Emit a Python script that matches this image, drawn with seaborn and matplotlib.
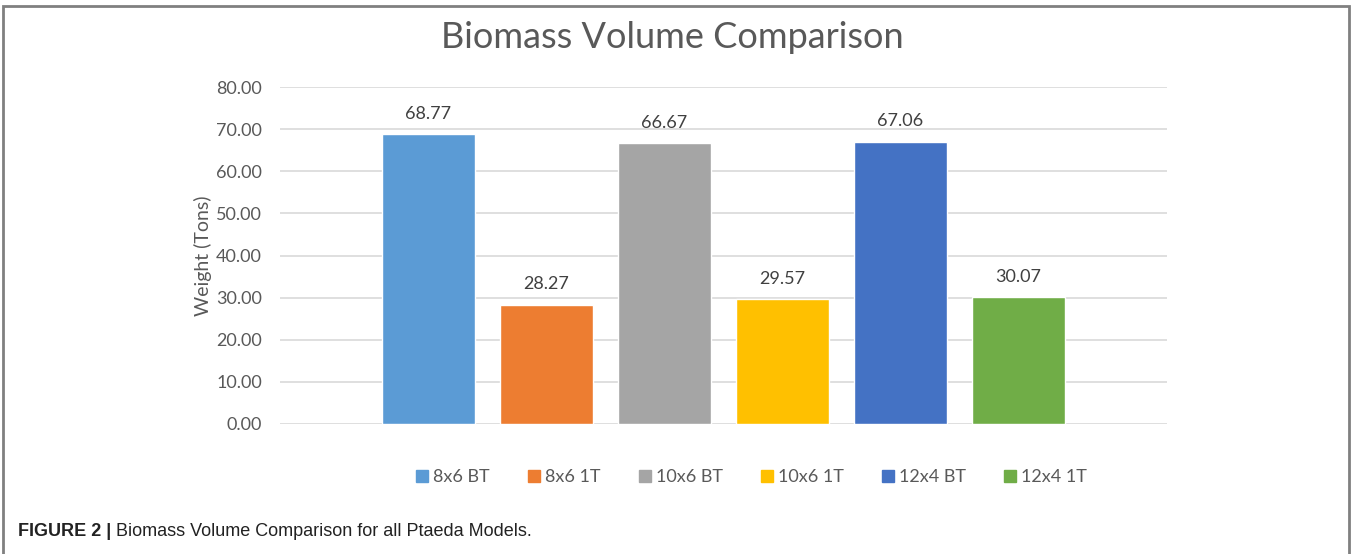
import matplotlib
matplotlib.use("Agg")
import matplotlib.pyplot as plt
import seaborn as sns
import pandas as pd
from matplotlib.patches import Rectangle
from matplotlib.lines import Line2D

series = ["8x6 BT", "8x6 1T", "10x6 BT", "10x6 1T", "12x4 BT", "12x4 1T"]
values = [68.77, 28.27, 66.67, 29.57, 67.06, 30.07]
colors = ["#5B9BD5", "#ED7D31", "#A5A5A5", "#FFC000", "#4472C4", "#70AD47"]
yticks = [0, 10, 20, 30, 40, 50, 60, 70, 80]

sns.set_theme(style="white")
plt.rcParams['font.family'] = ['Lato', 'DejaVu Sans']

df = pd.DataFrame({"series": series, "value": values})

fig = plt.figure(figsize=(13.52, 5.54), dpi=100)
ax = fig.add_axes([280/1352, 1-424/554, (1167-280)/1352, (424-87)/554])

sns.barplot(data=df, x="series", y="value", hue="series", palette=colors,
            order=series, hue_order=series, dodge=False, width=93/118,
            legend=False, ax=ax, saturation=1)

ax.set_xlim(2.5 - 887/118/2, 2.5 + 887/118/2)
ax.set_ylim(0, 80)
ax.set_yticks(yticks)
ax.set_yticklabels([f"{v:.2f}" for v in yticks], fontsize=13, color="#595959")
ax.tick_params(axis="y", length=0, pad=13)
ax.set_xticks([])
ax.set_xlabel("")
ax.set_ylabel("Weight (Tons)", fontsize=14, color="#595959", labelpad=3)
ax.grid(axis="y", color="#D9D9D9", linewidth=1.2)
ax.set_axisbelow(True)
for s in ax.spines.values():
    s.set_visible(False)

for i, v in enumerate(values):
    ax.annotate(f"{v:.2f}", (i, v), xytext=(0, 9), textcoords="offset points",
                ha="center", va="bottom", fontsize=13, color="#404040")

fig.text(672/1352, 1-38/554, "Biomass Volume Comparison", ha="center", va="center",
         fontsize=26, color="#595959")

handles = [Line2D([], [], marker="s", linestyle="", markersize=9, color=c) for c in colors]
fig.legend(handles, series, loc="center", bbox_to_anchor=(750/1352, 1-477/554),
           ncol=6, frameon=False, fontsize=13, handletextpad=0.1,
           columnspacing=1.95, handlelength=1.0, labelcolor="#595959")

# outer border
fig.patches.append(Rectangle((3/1352, -0.05), (1349-3)/1352, 1.05 - 6/554,
                             transform=fig.transFigure, fill=False,
                             edgecolor="#808080", linewidth=2))

t1 = fig.text(18/1352, 1-531/554, "FIGURE 2 |", ha="left", va="center",
              fontsize=13, fontweight="bold", color="#222222",
              family=["Liberation Sans"])
fig.canvas.draw()
bb = t1.get_window_extent(renderer=fig.canvas.get_renderer())
fig.text((bb.x1 + 5)/1352, 1-531/554, "Biomass Volume Comparison for all Ptaeda Models.",
         ha="left", va="center", fontsize=13, color="#222222",
         family=["Liberation Sans"])

fig.savefig("out.png", dpi=100)
